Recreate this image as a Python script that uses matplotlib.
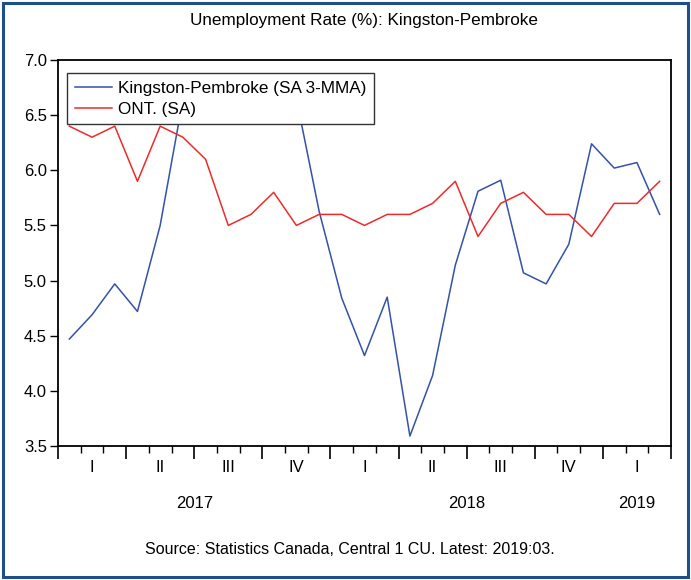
import matplotlib
matplotlib.use("Agg")
import matplotlib.pyplot as plt
import matplotlib.transforms as mtransforms
from matplotlib.patches import Rectangle

plt.rcParams['font.family'] = ['Liberation Sans', 'DejaVu Sans']

title = "Unemployment Rate (%): Kingston-Pembroke"
source = "Source: Statistics Canada, Central 1 CU. Latest: 2019:03."

kingston_label = "Kingston-Pembroke (SA 3-MMA)"
ontario_label = "ONT. (SA)"

# Monthly values Jan 2017 .. Mar 2019
kingston = [4.47, 4.69, 4.97, 4.72, 5.50, 6.64, 6.70, 6.75, 6.80, 6.75, 6.65, 5.63,
            4.84, 4.32, 4.85, 3.59, 4.14, 5.14, 5.81, 5.91, 5.07, 4.97, 5.33, 6.24,
            6.02, 6.07, 5.60]
ontario = [6.4, 6.3, 6.4, 5.9, 6.4, 6.3, 6.1, 5.5, 5.6, 5.8, 5.5, 5.6,
           5.6, 5.5, 5.6, 5.6, 5.7, 5.9, 5.4, 5.7, 5.8, 5.6, 5.6, 5.4,
           5.7, 5.7, 5.9]

quarter_labels = ["I", "II", "III", "IV", "I", "II", "III", "IV", "I"]
years = ["2017", "2018", "2019"]
year_months = [12, 12, 3]
y_ticks = [3.5, 4.0, 4.5, 5.0, 5.5, 6.0, 6.5, 7.0]

W, H = 691, 580
fig = plt.figure(figsize=(W / 100, H / 100), dpi=100)

# outer frame
fig.patches.append(Rectangle((3 / W, 3 / H), (W - 6) / W, (H - 6) / H,
                             transform=fig.transFigure, fill=False,
                             edgecolor='#1F4E8C', linewidth=2.2))

L, R, T, B = 58, 671, 60, 446
ax = fig.add_axes([L / W, 1 - B / H, (R - L) / W, (B - T) / H])

n = len(kingston)
x = [i + 0.5 for i in range(n)]
ax.plot(x, kingston, color='#3352A8', lw=1.1, label=kingston_label, zorder=2)
ax.plot(x, ontario, color='#EE2B2B', lw=1.1, label=ontario_label, zorder=2)

ax.set_xlim(0, n)
ax.set_ylim(3.5, 7.0)
ax.set_yticks(y_ticks)
ax.set_yticklabels([f"{v:.1f}" for v in y_ticks], fontsize=12)
ax.tick_params(axis='y', direction='out', length=6, width=1, pad=2)

ax.set_xticks(list(range(0, n + 1, 3)))
ax.set_xticks(list(range(0, n + 1)), minor=True)
ax.set_xticklabels([])
ax.tick_params(axis='x', which='major', direction='out', length=9, width=1.2)
ax.tick_params(axis='x', which='minor', direction='out', length=5, width=1)

for s in ax.spines.values():
    s.set_linewidth(1.3)
    s.set_color('black')

trans = mtransforms.blended_transform_factory(ax.transData, fig.transFigure)
for q, lab in enumerate(quarter_labels):
    ax.text(q * 3 + 1.5, 1 - 467 / H, lab, transform=trans, ha='center',
            va='center', fontsize=12)
start = 0
for yr, m in zip(years, year_months):
    ax.text(start + m / 2, 1 - 504 / H, yr, transform=trans, ha='center',
            va='center', fontsize=12)
    start += m

fig.text((L + R) / 2 / W, 1 - 20 / H, title, ha='center', va='center', fontsize=12.3)
fig.text((L + R) / 2 / W - 15 / W, 1 - 549 / H, source, ha='center', va='center',
         fontsize=11.5)

leg = ax.legend(loc='upper left', bbox_to_anchor=(67 / W, 1 - 73 / H),
                bbox_transform=fig.transFigure, borderaxespad=0, fancybox=False,
                framealpha=1, edgecolor='#333333', fontsize=12.3,
                handlelength=2.2, handletextpad=0.35, borderpad=0.45,
                labelspacing=0.35)
leg.get_frame().set_linewidth(1.0)
leg.set_zorder(5)

fig.savefig("out.png", dpi=100)
